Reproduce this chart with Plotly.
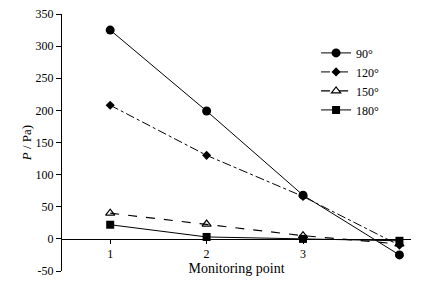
import plotly.graph_objects as go

points = [1, 2, 3, 4]
tick_labels = ["1", "2", "3", ""]
y_ticks = [-50, 0, 50, 100, 150, 200, 250, 300, 350]
y_tick_labels = ["-50", "0", "50", "100", "150", "200", "250", "300", "350"]
s90 = [325, 199, 68, -25]
s120 = [208, 130, 66, -10]
s150 = [40, 23, 5, -8]
s180 = [22, 3, 0, -3]

font = "'Liberation Serif', 'Times New Roman', serif"
fig = go.Figure()
fig.add_trace(go.Scatter(x=points, y=s90, name="90°", mode="lines+markers",
                         line=dict(color="black", width=1),
                         marker=dict(symbol="circle", size=9, color="black")))
fig.add_trace(go.Scatter(x=points, y=s120, name="120°", mode="lines+markers",
                         line=dict(color="black", width=1, dash="dashdot"),
                         marker=dict(symbol="diamond", size=7, color="black")))
fig.add_trace(go.Scatter(x=points, y=s150, name="150°", mode="lines+markers",
                         line=dict(color="black", width=1.2, dash="dash"),
                         marker=dict(symbol="triangle-up-open", size=8, color="black",
                                     line=dict(width=1.2))))
fig.add_trace(go.Scatter(x=points, y=s180, name="180°", mode="lines+markers",
                         line=dict(color="black", width=1),
                         marker=dict(symbol="square", size=8, color="black")))

fig.update_layout(
    width=428, height=293,
    margin=dict(l=62, r=17, t=14, b=22, autoexpand=False),
    plot_bgcolor="white", paper_bgcolor="white",
    font=dict(family=font, size=12, color="black"),
    showlegend=True,
    legend=dict(x=0.728, y=0.905, xanchor="left", yanchor="top",
                bgcolor="rgba(0,0,0,0)", font=dict(size=12, family=font),
                itemwidth=30, tracegroupgap=5),
    xaxis=dict(range=[0.5, 4.12], tickvals=points, ticktext=tick_labels,
               showgrid=False, zeroline=False, showline=True, linecolor="black",
               linewidth=1, ticks="outside", ticklen=4, tickcolor="black",
               anchor="free", position=0.125, automargin=False,
               tickfont=dict(size=12, family=font),
               title=dict(text="Monitoring point", font=dict(size=14, family=font),
                          standoff=2)),
    yaxis=dict(range=[-50, 350], tickvals=y_ticks, ticktext=y_tick_labels,
               showgrid=False, zeroline=False, automargin=False,
               showline=True, linecolor="black", linewidth=1,
               ticks="outside", ticklen=5, tickcolor="black",
               tickfont=dict(size=12, family=font),
               title=dict(text="<i>P</i> / Pa)", font=dict(size=13, family=font),
                          standoff=1)),
)
fig.write_html("out.html", config={"displayModeBar": False},
               post_script="document.body.style.margin='0';document.body.style.padding='0';")
